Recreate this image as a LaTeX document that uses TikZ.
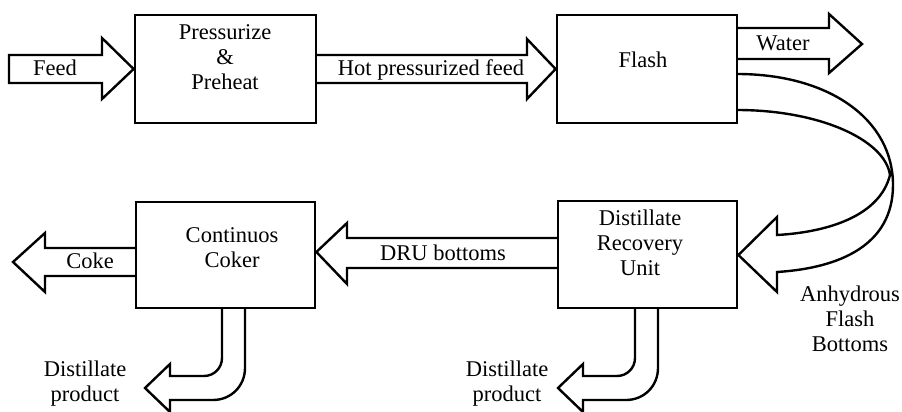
\documentclass[tikz,border=0pt]{standalone}
\usepackage{fontspec}
\setmainfont{Liberation Serif}
\newcommand\lblfont{\fontsize{22.5}{25}\selectfont}
\begin{document}
\begin{tikzpicture}[x=1pt,y=-1pt,
  box/.style={draw, line width=2.8pt, inner sep=0pt},
  blk/.style={draw, line width=2.4pt, line join=miter, miter limit=10},
  lbl/.style={font=\lblfont, align=center, inner sep=0pt, anchor=north, execute at begin node=\strut}]
\useasboundingbox (0,0) rectangle (902,412);
% boxes
\node[box, minimum width=181pt, minimum height=108pt] (pp) at (225.5,69) {};
\node[box, minimum width=180pt, minimum height=108pt] (fl) at (647,69) {};
\node[box, minimum width=179pt, minimum height=107pt] (dru) at (647.5,254.5) {};
\node[box, minimum width=179pt, minimum height=106pt] (cc) at (225.5,255) {};
% box texts
\node[lbl] (ppt) at (225,24.5) {Pressurize\\\&\\Preheat};
\node[lbl] (flt) at (643,49.5) {Flash};
\node[lbl] (drut) at (640,209.5) {Distillate\\Recovery\\Unit};
\node[lbl] (cct) at (232,227.5) {Continuos\\Coker};
% straight block arrows
\draw[blk] (9,55) -- (102,55) -- (102,38) -- (pp.west) -- (102,99) -- (102,83) -- (9,83) -- cycle;
\draw[blk] (316,55) -- (527,55) -- (527,39) -- (fl.west) -- (527,99) -- (527,83) -- (316,83);
\draw[blk] (737,28) -- (829,28) -- (829,14) -- (862,44) -- (829,73) -- (829,59) -- (737,59);
\draw[blk] (136,248) -- (45,248) -- (45,233) -- (13,262) -- (45,292) -- (45,276) -- (136,276);
\draw[blk] (558,238) -- (347,238) -- (347,223) -- (cc.east |- 0,252) -- (347,284) -- (347,268) -- (558,268);
% curved anhydrous flash bottoms arrow
\draw[blk] (737,74) .. controls (830,74) and (893,120) .. (893,185)
  .. controls (893,245) and (840,268) .. (777,272)
  -- (777,292) -- (dru.east |- 0,255) -- (777,217) -- (777,235)
  .. controls (830,232) and (880,215) .. (890,175)
  .. controls (885,140) and (820,110) .. (737,110);
% bent distillate product arrows
\draw[blk] (222,308) -- (222,358) .. controls (222,368) and (214,376) .. (204,376)
  -- (170,376) -- (170,364) -- (145,388) -- (170,412) -- (170,400) -- (213,400)
  .. controls (231,400) and (245,386) .. (245,368) -- (245,308);
\draw[blk] (635,308) -- (635,358) .. controls (635,368) and (627,376) .. (617,376)
  -- (583,376) -- (583,364) -- (558,388) -- (583,412) -- (583,400) -- (626,400)
  .. controls (644,400) and (658,386) .. (658,368) -- (658,308);
% arrow labels
\node[lbl] (feedt) at (55,57.5) {Feed};
\node[lbl] (hott) at (431,57.5) {Hot pressurized feed};
\node[lbl] (watert) at (783,32.5) {Water};
\node[lbl] (coket) at (90,250.5) {Coke};
\node[lbl] (drubt) at (443,242.5) {DRU bottoms};
\node[lbl] (afbt) at (850,285.5) {Anhydrous\\Flash\\Bottoms};
\node[lbl] (dp1) at (85,360.5) {Distillate\\product};
\node[lbl] (dp2) at (507,360.5) {Distillate\\product};
\end{tikzpicture}
\end{document}
